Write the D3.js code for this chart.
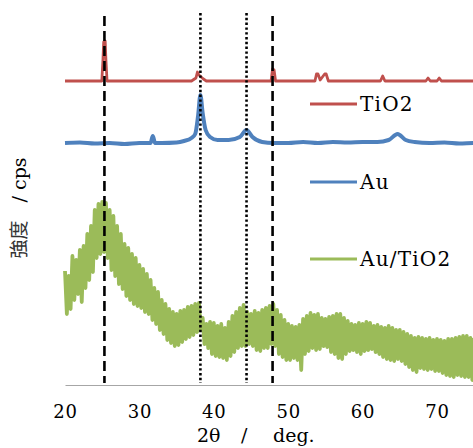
<!DOCTYPE html>
<html>
<head>
<meta charset="utf-8">
<script src="https://cdn.jsdelivr.net/npm/d3@7"></script>
<style>
  body { margin: 0; background: #fff; }
  svg { display: block; }
  text { font-family: "DejaVu Serif", serif; fill: #000; }
</style>
</head>
<body>
<svg id="chart" width="473" height="448"></svg>
<script>
// TiO2 pattern (2theta, cps)
const tio2Angle  = [20, 24.95, 25.1, 25.2, 25.4, 25.5, 25.65, 37.0, 37.6, 37.8, 38.0, 38.6, 39.0, 47.7, 47.9, 48.1, 48.3,
                    53.6, 53.8, 54.0, 54.3, 54.9, 55.1, 55.4, 62.4, 62.7, 63.0, 68.5, 68.8, 69.1, 70.0, 70.3, 70.6, 80];
const tio2Counts = [304, 304, 325, 343, 344, 325, 304, 304, 307, 313, 310, 306, 304, 304, 316, 315, 304,
                    304, 311, 311, 305, 311, 311, 304, 304, 309, 304, 304, 307, 304, 304, 307, 304, 304];

// Au pattern
const auAngle  = [20, 22, 24, 26, 28, 30, 31.5, 31.8, 32.1, 33, 35, 36, 37, 37.5, 37.9, 38.2, 38.5, 38.9, 39.5, 40.5,
                  42, 43.5, 44.4, 45.2, 46.5, 48, 50, 52, 54, 56, 58, 60, 62, 63.5, 64.7, 65.8, 67, 69, 71, 73, 75, 80];
const auCounts = [242, 242.5, 241.5, 242, 241, 242, 242, 249, 242, 242, 242.5, 244, 247, 251, 270, 290, 272, 255, 248, 245,
                  245, 248, 255, 248, 243, 242, 242, 243, 242, 243, 242.5, 243, 243, 245, 251, 245, 243, 242, 242.5, 241.5, 242, 242];

// Au/TiO2 pattern, 0.25 deg steps from 20 deg
const auTio2Start = 20, auTio2Step = 0.25;
const auTio2Counts = [
  114, 71, 109, 76,   129, 85, 125, 91,   135, 83, 139, 97,   151, 105, 159, 113,
  175, 127, 181, 131, 183, 133, 182, 127, 175, 115, 169, 109, 159, 101, 151, 96,
  141, 89, 137, 85,   131, 81, 127, 79,   120, 77, 116, 73,   111, 71, 105, 65,
  97, 61, 93, 55,     85, 51, 81, 45,     76, 42, 73, 39,     71, 40, 74, 43,
  75, 46, 78, 48,     79, 50, 81, 53,     82, 55, 67, 41,     61, 37, 63, 31,
  62, 29, 59, 28,     61, 27, 57, 25,     63, 29, 69, 33,     73, 37, 77, 39,
  80, 39, 73, 41,     71, 39, 74, 35,     72, 34, 75, 37,     77, 37, 79, 41,
  81, 39, 75, 31,     70, 28, 65, 25,     61, 25, 59, 27,     58, 25, 60, 15,
  66, 31, 69, 34,     72, 37, 70, 35,     71, 36, 67, 39,     66, 38, 68, 33,
  69, 31, 71, 27,     71, 26, 67, 31,     64, 34, 61, 35,     60, 33, 62, 31,
  61, 34, 63, 35,     62, 36, 59, 33,     60, 31, 58, 28,     57, 26, 59, 25,
  57, 24, 55, 26,     55, 24, 53, 21,     51, 18, 49, 15,     47, 13, 48, 17,
  47, 16, 46, 15,     47, 16, 45, 14,     46, 14, 45, 12,     44, 10, 46, 9,
  46, 8, 47, 10,      48, 9, 49, 8,       49, 8, 47, 5,       47
];

const xTicks = [20, 30, 40, 50, 60, 70];
const dashedRefs = [25.3, 47.9];
const dottedRefs = [38.2, 44.4];

const seriesNames = ["TiO2", "Au", "Au/TiO2"];
const seriesColors = ["#c0504d", "#4f81bd", "#9bbb59"];

const svg = d3.select("#chart");
const x = d3.scaleLinear().domain([20, 80]).range([65, 511.4]);
const y = d3.scaleLinear().domain([0, 370]).range([385, 15]);

const line = d3.line().x(d => x(d[0])).y(d => y(d[1]));

const tio2 = tio2Angle.map((a, i) => [a, tio2Counts[i]]);
const au = auAngle.map((a, i) => [a, auCounts[i]]);
const auTio2 = auTio2Counts.map((c, i) => [auTio2Start + i * auTio2Step, c]);

// axis
const xAxis = svg.append("g")
  .attr("transform", `translate(0,${y(0)})`)
  .call(d3.axisBottom(x).tickValues(xTicks).tickSize(0).tickPadding(20).tickFormat(d3.format("d")));
xAxis.select(".domain").attr("stroke", "#a6a6a6").attr("stroke-width", 1.2);
xAxis.selectAll("text").attr("font-size", 18).attr("font-family", "DejaVu Serif").attr("letter-spacing", 0.8);

// traces
svg.append("path").datum(auTio2).attr("d", line)
  .attr("fill", "none").attr("stroke", seriesColors[2]).attr("stroke-width", 3.8).attr("stroke-linejoin", "round");
svg.append("path").datum(au).attr("d", line.curve(d3.curveMonotoneX))
  .attr("fill", "none").attr("stroke", seriesColors[1]).attr("stroke-width", 4).attr("stroke-linejoin", "round");
svg.append("path").datum(tio2).attr("d", line.curve(d3.curveLinear))
  .attr("fill", "none").attr("stroke", seriesColors[0]).attr("stroke-width", 2.8).attr("stroke-linejoin", "round");

// reference lines
svg.selectAll(".dash").data(dashedRefs).enter().append("line")
  .attr("x1", d => x(d)).attr("x2", d => x(d))
  .attr("y1", y(369)).attr("y2", y(2))
  .attr("stroke", "#000").attr("stroke-width", 2.6).attr("stroke-dasharray", "10,5");
svg.selectAll(".dot").data(dottedRefs).enter().append("line")
  .attr("x1", d => x(d)).attr("x2", d => x(d))
  .attr("y1", y(372)).attr("y2", y(2))
  .attr("stroke", "#000").attr("stroke-width", 2.6).attr("stroke-dasharray", "2.4,2.4");

// legend
const legendY = [104, 182, 259];
const legend = svg.selectAll(".leg").data(seriesNames).enter().append("g")
  .attr("transform", (d, i) => `translate(310,${legendY[i]})`);
legend.append("line").attr("x1", 0).attr("x2", 47).attr("y1", 0).attr("y2", 0)
  .attr("stroke", (d, i) => seriesColors[i]).attr("stroke-width", 3.2);
legend.append("text").attr("x", 50).attr("y", 7).attr("font-size", 20).attr("letter-spacing", 1.2).text(d => d);

// axis titles
const xTitle = svg.append("g").attr("font-size", 19);
xTitle.append("text").attr("x", 197).attr("y", 442).text("2θ");
xTitle.append("text").attr("x", 241).attr("y", 442).text("/");
xTitle.append("text").attr("x", 273).attr("y", 442).text("deg.");

svg.append("text").attr("transform", "translate(26,208) rotate(-90)").attr("text-anchor", "middle")
  .attr("font-size", 19).style("white-space", "pre")
  .call(t => {
    t.append("tspan").attr("font-family", "Noto Sans CJK JP").attr("fill", "#333").text("強度");
    t.append("tspan").text("   / cps");
  });
</script>
</body>
</html>
